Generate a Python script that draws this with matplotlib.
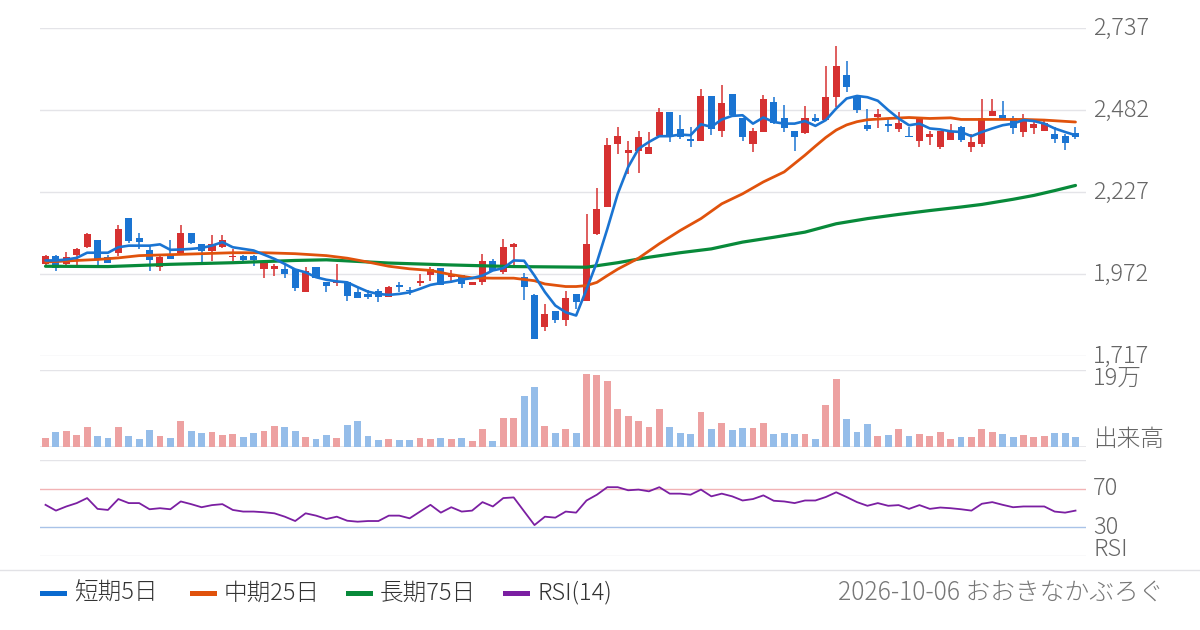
import matplotlib
matplotlib.use("Agg")
import matplotlib.pyplot as plt
import matplotlib.transforms as mtransforms
from matplotlib.patches import Rectangle
from matplotlib.lines import Line2D
import numpy as np

plt.rcParams['font.family'] = ['Noto Sans CJK JP', 'DejaVu Sans']
plt.rcParams['font.weight'] = 'light'

# ---------------- data ----------------
opens = [2004, 2030, 2003, 2033, 2056, 2077, 2025, 2039, 2148, 2084,
         2049, 1994, 2036, 2037, 2101, 2067, 2044, 2056, 2025, 2030,
         2030, 1989, 1989, 1987, 1987, 1918, 1996, 1947, 1944, 1947,
         1918, 1911, 1921, 1901, 1940, 1924, 1944, 1970, 1992, 1963,
         1970, 1939, 1947, 2012, 1980, 2056, 1965, 1909, 1807, 1857,
         1830, 1911, 1888, 2096, 2181, 2378, 2349, 2355, 2347, 2401,
         2475, 2422, 2392, 2386, 2525, 2417, 2532, 2458, 2378, 2414,
         2506, 2459, 2416, 2411, 2458, 2451, 2523, 2591, 2523, 2435,
         2461, 2438, 2423, 2401, 2386, 2399, 2366, 2388, 2428, 2367,
         2378, 2464, 2466, 2456, 2414, 2427, 2417, 2409, 2401, 2412]
highs = [2033, 2033, 2040, 2053, 2099, 2080, 2033, 2124, 2148, 2101,
         2061, 2030, 2077, 2124, 2101, 2067, 2093, 2093, 2051, 2031,
         2031, 2008, 2004, 2004, 1987, 1996, 1996, 1947, 2004, 1947,
         1933, 1923, 1927, 1937, 1947, 1932, 1973, 1994, 1992, 1986,
         1970, 1949, 2036, 2018, 2082, 2070, 1977, 1911, 1880, 1857,
         1921, 1911, 2158, 2241, 2394, 2429, 2385, 2416, 2414, 2487,
         2475, 2466, 2428, 2549, 2525, 2560, 2532, 2458, 2425, 2528,
         2523, 2497, 2416, 2494, 2469, 2619, 2681, 2634, 2523, 2484,
         2484, 2453, 2476, 2430, 2453, 2416, 2416, 2438, 2432, 2407,
         2518, 2518, 2510, 2463, 2471, 2451, 2455, 2430, 2407, 2428]
lows = [2001, 1981, 1999, 1999, 2054, 1999, 2006, 2028, 2069, 2051,
        1981, 1981, 2020, 2037, 2067, 2010, 2013, 2053, 2013, 2013,
        1999, 1960, 1968, 1960, 1921, 1918, 1960, 1916, 1937, 1888,
        1897, 1896, 1885, 1901, 1918, 1908, 1937, 1951, 1939, 1946,
        1929, 1939, 1940, 1983, 1973, 1999, 1892, 1771, 1797, 1820,
        1812, 1864, 1888, 2093, 2181, 2347, 2285, 2287, 2347, 2401,
        2383, 2392, 2368, 2386, 2406, 2399, 2466, 2386, 2352, 2414,
        2438, 2414, 2355, 2408, 2446, 2451, 2492, 2539, 2473, 2417,
        2427, 2414, 2414, 2397, 2367, 2373, 2361, 2388, 2383, 2352,
        2366, 2464, 2450, 2407, 2399, 2409, 2417, 2380, 2359, 2391]
closes = [2030, 1992, 2025, 2051, 2096, 2020, 2006, 2113, 2075, 2072,
          2016, 2025, 2020, 2101, 2069, 2044, 2067, 2077, 2030, 2015,
          2015, 2008, 1999, 1973, 1929, 1981, 1960, 1935, 1947, 1904,
          1897, 1901, 1901, 1932, 1932, 1919, 1952, 1989, 1939, 1973,
          1942, 1949, 2012, 1983, 2058, 2065, 1934, 1771, 1849, 1830,
          1899, 1885, 2067, 2176, 2373, 2401, 2357, 2397, 2368, 2475,
          2401, 2397, 2386, 2525, 2422, 2503, 2466, 2399, 2416, 2518,
          2442, 2425, 2399, 2456, 2448, 2523, 2619, 2554, 2482, 2424,
          2471, 2433, 2443, 2397, 2453, 2407, 2416, 2414, 2388, 2383,
          2459, 2479, 2453, 2427, 2451, 2440, 2443, 2392, 2380, 2397]

volumes = [20000, 35200, 37700, 27600, 47700, 25100, 20100, 47700, 25100, 17600,
           40200, 25100, 20100, 62800, 37700, 32600, 35200, 27600, 30100, 22600,
           32600, 37700, 50200, 47700, 37700, 22600, 17600, 27600, 20100, 52700,
           62800, 25100, 15100, 17600, 15100, 15100, 20100, 17600, 20100, 17600,
           20100, 12600, 42700, 12600, 70300, 70300, 125600, 148100, 50200, 32600,
           42700, 32600, 180800, 178300, 163200, 92900, 75300, 62800, 47700, 92900,
           47700, 32600, 30100, 85400, 42700, 57800, 40200, 45200, 45200, 57800,
           30100, 32600, 30100, 30100, 17600, 103000, 168200, 67800, 35200, 55200,
           25100, 27600, 42700, 25100, 30100, 25100, 35200, 17600, 22600, 22600,
           42700, 35200, 30100, 22600, 27600, 22600, 25100, 32600, 32600, 22600]

ma5 = [2015, 2015, 2018, 2023, 2039, 2039, 2039, 2056, 2061, 2061,
       2061, 2065, 2048, 2049, 2051, 2054, 2061, 2072, 2056, 2051,
       2046, 2033, 2020, 2004, 1987, 1978, 1963, 1955, 1950, 1947,
       1932, 1918, 1911, 1908, 1911, 1916, 1927, 1939, 1945, 1949,
       1956, 1960, 1968, 1984, 1991, 2015, 2014, 1968, 1917, 1875,
       1854, 1844, 1925, 2010, 2113, 2222, 2305, 2362, 2383, 2401,
       2401, 2406, 2404, 2438, 2430, 2453, 2464, 2466, 2440, 2459,
       2445, 2440, 2440, 2448, 2433, 2451, 2487, 2518, 2526, 2522,
       2511, 2482, 2456, 2435, 2440, 2425, 2422, 2416, 2414, 2401,
       2414, 2425, 2435, 2440, 2451, 2448, 2440, 2425, 2414, 2404]

ma25_idx = [0, 3, 5, 7, 9, 12, 15, 18, 21, 24, 27, 29, 31, 33, 35, 37, 39, 41, 43,
            45, 47, 48, 50, 51, 52, 53, 54, 55, 57, 59, 61, 63, 65, 67, 69, 71,
            73, 74, 75, 76, 77, 78, 79, 81, 83, 85, 87, 88, 90, 92, 94, 96, 98, 99]
ma25 = [2010, 2015, 2018, 2023, 2030, 2033, 2036, 2039, 2039, 2036, 2030, 2022,
        2010, 1997, 1989, 1984, 1971, 1961, 1960, 1960, 1952, 1942, 1934, 1934,
        1937, 1947, 1968, 1988, 2022, 2067, 2108, 2145, 2191, 2222, 2259, 2290,
        2342, 2370, 2397, 2420, 2436, 2446, 2452, 2456, 2459, 2456, 2458, 2453,
        2453, 2453, 2453, 2451, 2447, 2445]

ma75_idx = [0, 6, 12, 18, 24, 27, 33, 39, 45, 52, 55, 58, 61, 64, 67, 70, 73,
            76, 79, 82, 85, 88, 90, 93, 95, 97, 99]
ma75 = [1997, 1996, 2003, 2008, 2015, 2017, 2007, 2001, 1996, 1994, 2008, 2025,
        2039, 2051, 2072, 2087, 2103, 2129, 2145, 2158, 2170, 2181, 2189, 2205,
        2217, 2232, 2248]

rsi = [53.5, 47.5, 51.8, 55.3, 60.5, 49.3, 48.2, 59.5, 55.3, 55.3,
       48.9, 50.0, 48.9, 57.0, 54.2, 51.0, 53.2, 54.2, 48.2, 46.5,
       46.5, 45.8, 44.7, 41.2, 36.7, 44.7, 42.3, 38.8, 41.2, 37.0,
       36.0, 36.7, 36.7, 42.3, 42.3, 39.5, 46.5, 53.5, 45.4, 51.0,
       46.5, 47.5, 56.3, 51.8, 60.5, 61.2, 46.8, 32.5, 41.2, 40.2,
       46.5, 45.4, 58.0, 64.0, 71.8, 71.8, 68.6, 69.3, 67.5, 71.8,
       65.1, 65.1, 64.0, 69.3, 62.3, 65.1, 62.3, 58.0, 59.5, 63.3,
       57.7, 57.0, 55.3, 58.0, 58.0, 61.6, 66.5, 61.6, 56.3, 52.5,
       55.3, 52.5, 53.2, 49.3, 53.2, 49.3, 50.7, 50.0, 48.9, 47.5,
       54.6, 56.3, 53.5, 51.0, 51.8, 51.8, 51.8, 46.5, 45.4, 47.5]

price_ticks = [1717, 1972, 2227, 2482, 2737]
vol_max = 190000
vol_top_label = "19万"
vol_label = "出来高"
rsi_levels = [70, 30]
legend_labels = ["短期5日", "中期25日", "長期75日", "RSI(14)"]
footer_text = "2026-10-06 おおきなかぶろぐ"

# ---------------- styling ----------------
UP = '#D63131'
DOWN = '#1A74D2'
UP_V = '#EDA1A1'
DOWN_V = '#95BDE9'
C_MA5 = '#1A74D2'
C_MA25 = '#E0520C'
C_MA75 = '#088A3A'
C_RSI = '#7B1FA2'
GRID = '#E4E4E8'
LBL = '#666666'

W, H = 1200, 630
fig = plt.figure(figsize=(12, 6.3), dpi=100)
fig.patch.set_facecolor('white')

def fy(py):
    return 1 - py / H

L = 40 / W
AW = 1046 / W
ax_p = fig.add_axes([L, fy(356.4), AW, (356.4 - 28) / H])
ax_v = fig.add_axes([L, fy(446.5), AW, (446.5 - 370.2) / H])
ax_r = fig.add_axes([L, fy(556.4), AW, (556.4 - 460) / H])

n = len(closes)
x = np.arange(n)
for ax in (ax_p, ax_v, ax_r):
    ax.set_xlim(-0.53, 100.01)
    for s in ax.spines.values():
        s.set_visible(False)
    ax.set_xticks([])
    ax.set_yticks([])
    ax.patch.set_alpha(0)

# price panel
ax_p.set_ylim(price_ticks[0], price_ticks[-1])
for t in price_ticks:
    ax_p.axhline(t, color=GRID, lw=1.0, zorder=0)
bw = 0.68
for i in range(n):
    o, h, l, c = opens[i], highs[i], lows[i], closes[i]
    col = UP if c >= o else DOWN
    ax_p.plot([i, i], [l, h], color=col, lw=1.1, zorder=2, solid_capstyle='butt')
    lo, hi = min(o, c), max(o, c)
    ax_p.add_patch(Rectangle((i - bw / 2, lo), bw, max(hi - lo, 2.5),
                             facecolor=col, edgecolor='none', zorder=3))
ax_p.plot(ma75_idx, ma75, color=C_MA75, lw=2.3, zorder=4, solid_capstyle='round',
          solid_joinstyle='round')
ax_p.plot(ma25_idx, ma25, color=C_MA25, lw=2.0, zorder=5, solid_capstyle='round',
          solid_joinstyle='round')
ax_p.plot(x, ma5, color=C_MA5, lw=1.9, zorder=6, solid_capstyle='round',
          solid_joinstyle='round')

# volume panel
ax_v.set_ylim(0, vol_max)
ax_v.axhline(vol_max, color=GRID, lw=1.0, zorder=0)
ax_v.axhline(0, color=GRID, lw=1.2, zorder=0)
vcols = [UP_V if closes[i] >= opens[i] else DOWN_V for i in range(n)]
ax_v.bar(x, volumes, width=0.66, color=vcols, zorder=2)

# RSI panel
ax_r.set_ylim(0, 100)
ax_r.axhline(100, color=GRID, lw=1.0, zorder=0)
ax_r.axhline(0, color=GRID, lw=1.0, zorder=0)
ax_r.axhline(rsi_levels[0], color='#F2B3B5', lw=1.0, zorder=1)
ax_r.axhline(rsi_levels[1], color='#A9C3E8', lw=1.0, zorder=1)
ax_r.plot(x, rsi, color=C_RSI, lw=1.3, zorder=3)

# right-hand labels
LX = 1093 / W
FS = 17
tp = mtransforms.blended_transform_factory(fig.transFigure, ax_p.transData)
for t in price_ticks:
    fig.text(LX, t, f"{t:,}", transform=tp, ha='left', va='center',
             fontsize=FS, color=LBL)
tv = mtransforms.blended_transform_factory(fig.transFigure, ax_v.transAxes)
fig.text(LX, (446.5 - 378) / (446.5 - 370.2), vol_top_label, transform=tv,
         ha='left', va='center', fontsize=FS, color=LBL)
fig.text(LX, (446.5 - 439) / (446.5 - 370.2), vol_label, transform=tv,
         ha='left', va='center', fontsize=FS, color=LBL)
tr = mtransforms.blended_transform_factory(fig.transFigure, ax_r.transData)
for lv in rsi_levels:
    fig.text(LX, lv, f"{lv}", transform=tr, ha='left', va='center',
             fontsize=FS, color=LBL)
fig.text(LX, (556.4 - 549.5) / 0.964, "RSI", transform=tr, ha='left', va='center',
         fontsize=FS, color=LBL)

# footer separator
fig.add_artist(Line2D([0, 1], [fy(570), fy(570)], color='#E2E2E6', lw=1.0,
                      transform=fig.transFigure))

# legend
leg_cols = ['#0A6ACF', '#E0520C', '#088A3A', '#7B1FA2']
leg_mark_x = [40, 190, 346, 503]
leg_text_x = [74, 224, 380, 538]
ly = 593
for c, mx, tx, lab in zip(leg_cols, leg_mark_x, leg_text_x, legend_labels):
    fig.add_artist(Rectangle((mx / W, fy(ly + 2.5)), 27 / W, 5 / H,
                             facecolor=c, edgecolor='none', transform=fig.transFigure))
    fig.text(tx / W, fy(ly), lab, ha='left', va='center', fontsize=FS, color='#333333')
fig.text(1163 / W, fy(ly), footer_text, ha='right', va='center', fontsize=17.8,
         color='#777777')

fig.savefig('out.png', dpi=100, facecolor='white')
